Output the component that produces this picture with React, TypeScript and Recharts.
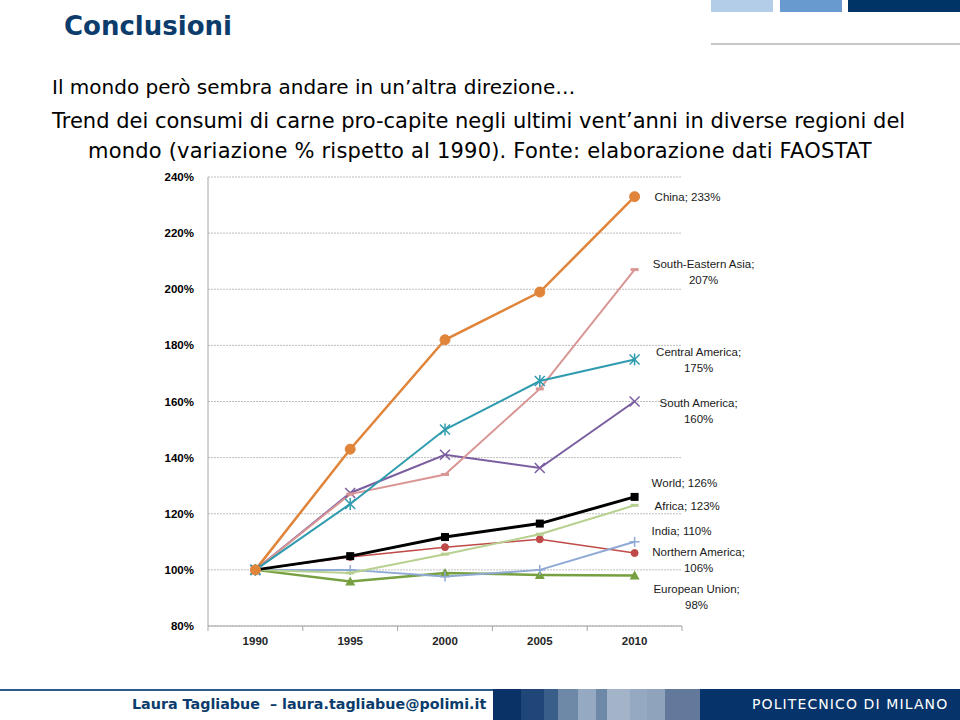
import { LineChart, Line, XAxis, YAxis, CartesianGrid } from 'recharts';

const years = ['1990', '1995', '2000', '2005', '2010'];
const yTicks = [80, 100, 120, 140, 160, 180, 200, 220, 240];

const chinaValues = [100, 143, 182, 199, 233];
const seAsiaValues = [100, 127, 134, 164.5, 207];
const centralAmericaValues = [100, 123.5, 150, 167.3, 175];
const southAmericaValues = [100, 127.4, 141, 136.3, 160];
const worldValues = [100, 104.9, 111.7, 116.5, 126];
const africaValues = [100, 98.9, 105.6, 112.7, 123];
const indiaValues = [100, 100, 97.6, 100, 110];
const northAmericaValues = [100, 104.6, 108.1, 110.9, 106];
const euValues = [100, 95.9, 98.9, 98.2, 98];

type Shape = 'circle' | 'smallCircle' | 'dash' | 'star' | 'cross' | 'square' | 'plus' | 'triangle';

type SeriesDef = {
  key: string;
  name: string;
  values: number[];
  color: string;
  width: number;
  shape: Shape;
  // end label placement relative to the last point
  dx: number;
  dy: number[];
  anchor: 'start' | 'middle';
};

const series: SeriesDef[] = [
  { key: 'eu', name: 'European Union', values: euValues, color: '#77A040', width: 2.5, shape: 'triangle', dx: 62, dy: [14, 30], anchor: 'middle' },
  { key: 'na', name: 'Northern America', values: northAmericaValues, color: '#BE4B48', width: 1.5, shape: 'smallCircle', dx: 64, dy: [-1, 15], anchor: 'middle' },
  { key: 'india', name: 'India', values: indiaValues, color: '#8EA9D4', width: 2, shape: 'plus', dx: 17, dy: [-11], anchor: 'start' },
  { key: 'africa', name: 'Africa', values: africaValues, color: '#B7D08F', width: 2, shape: 'dash', dx: 20, dy: [1], anchor: 'start' },
  { key: 'world', name: 'World', values: worldValues, color: '#000000', width: 3, shape: 'square', dx: 17, dy: [-14], anchor: 'start' },
  { key: 'sam', name: 'South America', values: southAmericaValues, color: '#7B5EA0', width: 2, shape: 'cross', dx: 64, dy: [1, 17], anchor: 'middle' },
  { key: 'sea', name: 'South-Eastern Asia', values: seAsiaValues, color: '#D99694', width: 2, shape: 'dash', dx: 69, dy: [-6, 10], anchor: 'middle' },
  { key: 'cam', name: 'Central America', values: centralAmericaValues, color: '#2F9BAE', width: 2, shape: 'star', dx: 64, dy: [-7, 9], anchor: 'middle' },
  { key: 'china', name: 'China', values: chinaValues, color: '#E0843A', width: 2.5, shape: 'circle', dx: 20, dy: [0], anchor: 'start' },
];

const data = years.map((year, i) => {
  const row: Record<string, number | string> = { idx: i, year };
  series.forEach((s) => {
    row[s.key] = s.values[i];
  });
  return row;
});

const renderMarker = (s: SeriesDef, p: any) => {
  const { cx, cy, index } = p;
  const k = `${s.key}-dot-${index}`;
  const c = s.color;
  switch (s.shape) {
    case 'circle':
      return <circle key={k} cx={cx} cy={cy} r={5} fill={c} stroke={c} />;
    case 'smallCircle':
      return <circle key={k} cx={cx} cy={cy} r={3.5} fill={c} stroke={c} />;
    case 'dash':
      return <rect key={k} x={cx - 4} y={cy - 1.5} width={8} height={3} fill={c} />;
    case 'square':
      return <rect key={k} x={cx - 4} y={cy - 4} width={8} height={8} fill={c} />;
    case 'triangle':
      return <path key={k} d={`M${cx},${cy - 5} L${cx + 5},${cy + 4} L${cx - 5},${cy + 4} Z`} fill={c} />;
    case 'plus':
      return (
        <g key={k} stroke={c} strokeWidth={1.5}>
          <line x1={cx - 5} y1={cy} x2={cx + 5} y2={cy} />
          <line x1={cx} y1={cy - 5} x2={cx} y2={cy + 5} />
        </g>
      );
    case 'cross':
      return (
        <g key={k} stroke={c} strokeWidth={1.5}>
          <line x1={cx - 5} y1={cy - 5} x2={cx + 5} y2={cy + 5} />
          <line x1={cx - 5} y1={cy + 5} x2={cx + 5} y2={cy - 5} />
        </g>
      );
    case 'star':
      return (
        <g key={k} stroke={c} strokeWidth={1.5}>
          <line x1={cx - 5} y1={cy - 5} x2={cx + 5} y2={cy + 5} />
          <line x1={cx - 5} y1={cy + 5} x2={cx + 5} y2={cy - 5} />
          <line x1={cx} y1={cy - 6} x2={cx} y2={cy + 6} />
        </g>
      );
    default:
      return <g key={k} />;
  }
};

const renderEndLabel = (s: SeriesDef, p: any) => {
  const { x, y, index } = p;
  const k = `${s.key}-lbl-${index}`;
  if (index !== years.length - 1) return <g key={k} />;
  const last = Math.round(s.values[s.values.length - 1]);
  const lines = s.dy.length > 1 ? [`${s.name};`, `${last}%`] : [`${s.name}; ${last}%`];
  return (
    <g key={k}>
      {lines.map((t, i) => (
        <text
          key={i}
          x={x + s.dx}
          y={y + s.dy[i]}
          textAnchor={s.anchor}
          dominantBaseline="central"
          fontSize={11.5}
          fontFamily="'Liberation Sans', Arial, sans-serif"
          fill="#1a1a1a"
        >
          {t}
        </text>
      ))}
    </g>
  );
};

const YearTick = (props: any) => {
  const { x, y, payload } = props;
  const half = 47.4;
  const i = payload.value as number;
  return (
    <g>
      <line x1={x - half} y1={y} x2={x - half} y2={y + 5} stroke="#A6A6A6" />
      {i === years.length - 1 && <line x1={x + half} y1={y} x2={x + half} y2={y + 5} stroke="#A6A6A6" />}
      <text x={x} y={y + 15} textAnchor="middle" dominantBaseline="central" fontSize={11.5} fontWeight="bold" fontFamily="'Liberation Sans', Arial, sans-serif" fill="#262626">
        {years[i]}
      </text>
    </g>
  );
};

const MeatChart = () => (
  <LineChart width={660} height={490} data={data} margin={{ top: 10, right: 118, bottom: 0, left: 0 }}>
    <CartesianGrid vertical={false} stroke="#BDBDBD" strokeDasharray="2 1" />
    <XAxis
      dataKey="idx"
      type="number"
      domain={[-0.5, 4.5]}
      ticks={[0, 1, 2, 3, 4]}
      tick={<YearTick />}
      tickLine={false}
      tickSize={0}
      tickMargin={0}
      height={31}
      stroke="#A6A6A6"
      interval={0}
    />
    <YAxis
      domain={[80, 240]}
      ticks={yTicks}
      tickFormatter={(v) => `${v}%`}
      width={68}
      tickLine={false}
      tickMargin={8}
      stroke="#A6A6A6"
      interval={0}
      tick={{ fontSize: 11.5, fontWeight: 'bold', fill: '#000', fontFamily: "'Liberation Sans', Arial, sans-serif" }}
    />
    {series.map((s) => (
      <Line
        key={s.key}
        type="linear"
        dataKey={s.key}
        name={s.name}
        stroke={s.color}
        strokeWidth={s.width}
        dot={(p: any) => renderMarker(s, p)}
        activeDot={false}
        label={(p: any) => renderEndLabel(s, p)}
        isAnimationActive={false}
      />
    ))}
  </LineChart>
);

export default function App() {
  const sans = "'DejaVu Sans', Verdana, sans-serif";
  return (
    <div style={{ position: 'absolute', left: 0, top: 0, width: 960, height: 720, background: '#fff', overflow: 'hidden', fontFamily: sans }}>
      {/* header decoration */}
      <div style={{ position: 'absolute', left: 711, top: 0, width: 62, height: 12, background: '#B3CCE8' }} />
      <div style={{ position: 'absolute', left: 780, top: 0, width: 62, height: 12, background: '#6899CF' }} />
      <div style={{ position: 'absolute', left: 848, top: 0, width: 112, height: 12, background: '#003366' }} />
      <div style={{ position: 'absolute', left: 711, top: 43, width: 249, height: 2, background: '#C8C8C8' }} />

      <div style={{ position: 'absolute', left: 64, top: 9, fontSize: 26, fontWeight: 'bold', color: '#0B3C6C', lineHeight: '34px' }}>
        Conclusioni
      </div>
      <div style={{ position: 'absolute', left: 52, top: 73, fontSize: 20, color: '#000', lineHeight: '28px', whiteSpace: 'nowrap' }}>
        Il mondo però sembra andare in un’altra direzione…
      </div>
      <div style={{ position: 'absolute', left: 52, top: 106, fontSize: 21, color: '#000', lineHeight: '30px', whiteSpace: 'nowrap' }}>
        Trend dei consumi di carne pro-capite negli ultimi vent’anni in diverse regioni del
        <br />
        <span style={{ paddingLeft: 36, letterSpacing: 0.2 }}>mondo (variazione % rispetto al 1990). Fonte: elaborazione dati FAOSTAT</span>
      </div>

      <div style={{ position: 'absolute', left: 140, top: 167 }}>
        <MeatChart />
      </div>

      {/* footer */}
      <div style={{ position: 'absolute', left: 0, top: 689, width: 493, height: 2, background: '#2D5A8A' }} />
      <div style={{ position: 'absolute', left: 132, top: 696, fontSize: 14.3, fontWeight: 'bold', color: '#0B3C6C', whiteSpace: 'nowrap' }}>
        Laura Tagliabue&nbsp; – laura.tagliabue@polimi.it
      </div>
      {[
        ['#0B3266', 493, 28],
        ['#1F4677', 521, 23],
        ['#3A5E8A', 544, 14],
        ['#6E88A8', 558, 20],
        ['#96A9C2', 578, 18],
        ['#6E88A8', 596, 11],
        ['#A4B4C8', 607, 23],
        ['#96A9C2', 630, 17],
        ['#8FA3BD', 647, 18],
        ['#62799B', 665, 35],
        ['#06336A', 700, 260],
      ].map(([c, x, w]) => (
        <div key={`${x}`} style={{ position: 'absolute', left: x as number, top: 689, width: w as number, height: 31, background: c as string }} />
      ))}
      <div style={{ position: 'absolute', left: 752, top: 696, fontSize: 14, color: '#fff', letterSpacing: 1.1, whiteSpace: 'nowrap' }}>
        POLITECNICO DI MILANO
      </div>
    </div>
  );
}
